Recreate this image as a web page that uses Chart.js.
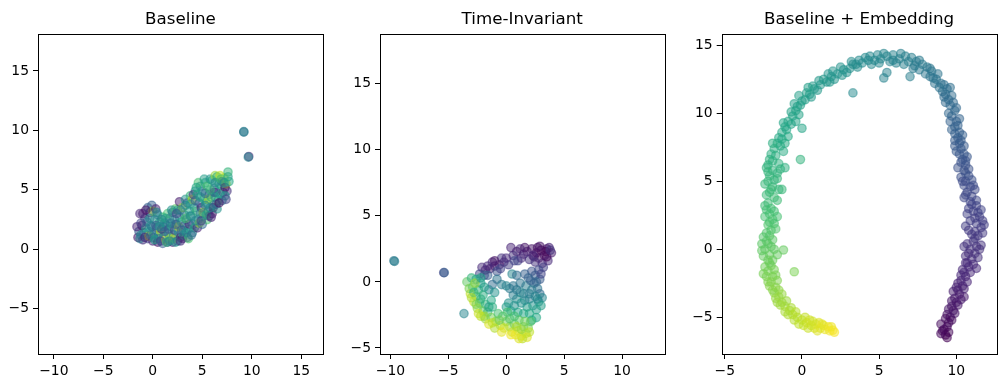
<!DOCTYPE html>
<html>
<head>
<meta charset="utf-8">
<title>Baseline / Time-Invariant / Baseline + Embedding</title>
<script src="https://cdn.jsdelivr.net/npm/chart.js@4.4.1/dist/chart.umd.min.js"></script>
<style>
    html, body { margin: 0; padding: 0; background: #fff; overflow: hidden; }
    body { width: 998px; height: 382px; position: relative; }
    canvas { position: absolute; top: 0; }
</style>
</head>
<body>
<canvas id="chart1" width="330" height="382" style="left:0px"></canvas>
<canvas id="chart2" width="340" height="382" style="left:330px"></canvas>
<canvas id="chart3" width="332" height="382" style="left:670px"></canvas>
<script>
// 패널 제목
var titles = ["Baseline", "Time-Invariant", "Baseline + Embedding"];

// [x, y, 색상값(0~1, viridis)] - 그림에서 읽은 값
var baselinePoints = [
    [-1.5, 1.0, 0.05], [-1.4, 1.5, 0.3], [-1.6, 1.9, 0.1], [-1.2, 1.2, 0.45],
    [-1.0, 0.8, 0.15], [-0.9, 1.4, 0.4], [-1.1, 2.0, 0.05], [-0.8, 2.6, 0.25], [-1.0, 3.0, 0.08], [-0.7, 1.8, 0.55], [-1.3, 3.0, 0.1],
    [-0.5, 0.9, 0.2], [-0.4, 1.5, 0.5], [-0.6, 2.3, 0.35], [-0.3, 3.1, 0.1], [-0.5, 3.5, 0.3], [-0.2, 2.0, 0.45], [-0.4, 1.1, 0.9], [-0.1, 3.7, 0.3],
    [0.0, 0.7, 0.12], [0.1, 1.3, 0.6], [-0.1, 1.9, 0.4], [0.2, 2.5, 0.5], [0.0, 3.2, 0.85], [0.3, 3.4, 0.08], [0.1, 1.0, 0.3],
    [0.5, 0.6, 0.05], [0.6, 1.2, 0.45], [0.4, 1.8, 0.25], [0.7, 2.3, 0.6], [0.5, 2.9, 0.4], [0.8, 1.5, 0.9], [0.6, 0.9, 0.35],
    [1.0, 0.5, 0.3], [1.1, 1.1, 0.5], [0.9, 1.7, 0.1], [1.2, 2.2, 0.45], [1.0, 2.7, 0.65], [1.3, 0.8, 0.95], [1.1, 1.9, 0.35],
    [1.5, 0.6, 0.2], [1.6, 1.3, 0.55], [1.4, 2.0, 0.45], [1.7, 2.6, 0.3], [1.5, 3.0, 0.7], [1.8, 1.0, 0.85], [1.6, 1.7, 0.25],
    [2.0, 0.6, 0.1], [2.1, 1.2, 0.4], [1.9, 1.9, 0.6], [2.2, 2.5, 0.5], [2.0, 3.1, 0.35], [2.3, 3.4, 0.75], [2.1, 0.9, 0.9], [2.2, 1.6, 0.2],
    [2.5, 0.7, 0.3], [2.6, 1.4, 0.5], [2.4, 2.1, 0.15], [2.7, 2.7, 0.45], [2.5, 3.3, 0.6], [2.7, 4.0, 0.08], [2.6, 1.9, 0.9], [2.8, 1.0, 0.1],
    [3.0, 0.9, 0.05], [3.1, 1.6, 0.45], [2.9, 2.3, 0.55], [3.2, 2.9, 0.35], [3.0, 3.5, 0.85], [3.3, 4.2, 0.5], [3.1, 1.2, 0.6], [3.2, 2.0, 0.25],
    [3.5, 1.0, 0.2], [3.6, 1.7, 0.55], [3.4, 2.5, 0.4], [3.7, 3.2, 0.6], [3.5, 3.9, 0.3], [3.8, 4.5, 0.65], [3.6, 0.9, 0.7], [3.7, 2.1, 0.1],
    [4.0, 1.4, 0.4], [4.1, 2.1, 0.3], [3.9, 2.8, 0.55], [4.2, 3.5, 0.45], [4.0, 4.2, 0.9], [4.3, 4.9, 0.5], [4.1, 4.6, 0.15], [4.2, 1.8, 0.6],
    [4.5, 1.8, 0.1], [4.6, 2.5, 0.5], [4.4, 3.2, 0.65], [4.7, 3.9, 0.35], [4.5, 4.6, 0.6], [4.8, 5.3, 0.4], [4.6, 5.6, 0.7], [4.7, 2.2, 0.85],
    [5.0, 2.1, 0.35], [5.1, 2.8, 0.55], [4.9, 3.5, 0.1], [5.2, 4.2, 0.65], [5.0, 4.9, 0.45], [5.3, 5.6, 0.6], [5.1, 3.1, 0.9], [5.2, 5.9, 0.55],
    [5.5, 2.5, 0.7], [5.6, 3.2, 0.4], [5.4, 3.9, 0.6], [5.7, 4.6, 0.3], [5.5, 5.3, 0.7], [5.8, 5.9, 0.5], [5.6, 4.2, 0.9], [5.7, 2.8, 0.2],
    [6.0, 3.0, 0.05], [6.1, 3.7, 0.55], [5.9, 4.4, 0.65], [6.2, 5.1, 0.4], [6.0, 5.8, 0.6], [6.3, 6.2, 0.85], [6.1, 3.5, 0.02], [6.2, 4.8, 0.15],
    [6.5, 3.4, 0.5], [6.6, 4.1, 0.7], [6.4, 4.8, 0.25], [6.7, 5.5, 0.6], [6.5, 6.1, 0.65], [6.8, 6.2, 0.9],
    [7.0, 4.1, 0.4], [7.1, 4.8, 0.1], [6.9, 5.4, 0.6], [7.2, 6.0, 0.9], [7.0, 5.7, 0.35],
    [7.5, 4.9, 0.15], [7.4, 5.5, 0.9], [7.6, 6.1, 0.55], [7.6, 6.5, 0.65], [7.3, 5.2, 0.05],
    [-1.3, 0.9, 0.4], [-1.2, 2.2, 0.2], [-0.8, 1.0, 0.1], [-0.7, 3.3, 0.05], [-0.3, 2.6, 0.45], [-0.2, 1.2, 0.35], [0.2, 0.8, 0.55],
    [0.3, 2.0, 0.3], [0.4, 3.1, 0.45], [0.8, 0.7, 0.2], [0.9, 2.5, 0.4], [0.7, 1.9, 0.5], [1.2, 1.5, 0.3], [1.3, 2.6, 0.55],
    [1.4, 0.6, 0.65], [1.8, 2.2, 0.4], [1.9, 3.3, 0.5], [1.7, 0.7, 0.45], [2.3, 2.1, 0.35], [2.4, 3.0, 0.2], [2.3, 0.6, 0.5],
    [2.8, 3.3, 0.4], [2.9, 1.6, 0.3], [2.8, 0.7, 0.15], [3.3, 3.7, 0.45], [3.4, 1.4, 0.5], [3.3, 2.6, 0.7], [3.8, 2.8, 0.45],
    [3.8, 3.8, 0.55], [3.9, 1.2, 0.35], [4.3, 2.4, 0.45], [4.3, 4.1, 0.3], [4.4, 5.2, 0.6], [4.8, 3.0, 0.4], [4.8, 4.4, 0.55],
    [4.9, 2.4, 0.2], [5.3, 3.7, 0.45], [5.3, 4.7, 0.35], [5.4, 2.9, 0.6], [5.8, 3.5, 0.45], [5.8, 5.0, 0.65], [5.9, 2.7, 0.1],
    [6.3, 4.4, 0.5], [6.3, 5.6, 0.45], [6.4, 3.8, 0.3], [6.8, 4.6, 0.55], [6.7, 3.9, 0.05], [6.9, 5.9, 0.7], [7.3, 4.5, 0.5],
    [7.2, 5.6, 0.45], [7.7, 5.7, 0.6], [7.4, 4.2, 0.2],
    [9.2, 9.9, 0.42], [9.2, 9.85, 0.4], [9.7, 7.8, 0.12], [9.65, 7.75, 0.45]
];

var invariantPoints = [
    // 위쪽 보라
    [3.5, 2.5, 0.02], [3.0, 2.4, 0.0], [2.6, 2.2, 0.02], [3.3, 2.0, 0.05], [2.8, 1.8, 0.03], [3.7, 2.6, 0.1], [2.2, 2.5, 0.05],
    [1.8, 2.3, 0.08], [2.4, 1.9, 0.06], [1.5, 2.1, 0.1], [1.2, 2.5, 0.12], [0.9, 2.3, 0.08], [0.6, 2.0, 0.15], [3.6, 1.6, 0.12],
    [3.1, 1.4, 0.1], [2.0, 1.7, 0.15], [3.9, 2.2, 0.08], [0.4, 2.6, 0.1], [1.0, 1.6, 0.2], [2.7, 2.6, 0.04], [3.2, 1.1, 0.18], [3.4, 2.3, 0.0],
    [-0.2, 1.5, 0.1], [-0.6, 1.3, 0.05], [-1.0, 1.2, 0.1], [-1.4, 1.0, 0.06], [-1.8, 0.9, 0.08], [-2.1, 1.1, 0.12],
    [-0.4, 1.8, 0.15], [-1.2, 1.5, 0.1], [0.2, 1.3, 0.18], [-2.3, 0.6, 0.2], [-1.6, 0.5, 0.3], [-0.8, 0.8, 0.25],
    [2.9, 2.7, 0.05], [2.3, 2.0, 0.1], [1.6, 2.6, 0.05], [3.5, 1.9, 0.02], [3.8, 2.4, 0.15], [2.5, 1.5, 0.15], [1.3, 1.8, 0.12],
    [0.7, 1.6, 0.2], [0.0, 1.8, 0.12], [-0.5, 1.0, 0.2], [-1.0, 1.6, 0.05], [-1.6, 1.2, 0.12], [-1.9, 0.5, 0.25],
    // 떨어진 점
    [-9.7, 1.6, 0.4], [-9.65, 1.55, 0.42], [-5.4, 0.7, 0.2], [-5.35, 0.7, 0.3], [-3.65, -2.4, 0.45], [0.5, 0.6, 0.45],
    // 오른쪽 청록
    [2.8, 0.9, 0.22], [2.5, 0.5, 0.3], [2.2, 0.8, 0.25], [2.9, 0.2, 0.28], [2.4, -0.1, 0.35], [1.9, 0.3, 0.32], [2.7, -0.5, 0.38],
    [2.2, -0.6, 0.4], [1.7, -0.3, 0.42], [2.9, -0.9, 0.35], [2.5, -1.1, 0.45], [2.0, -1.3, 0.42], [1.5, -0.9, 0.4], [2.8, -1.5, 0.5],
    [2.3, -1.8, 0.5], [1.8, -1.9, 0.55], [2.6, -2.1, 0.55], [2.0, -2.4, 0.6], [2.6, -2.7, 0.6], [3.1, -1.2, 0.45], [1.6, 0.6, 0.3], [1.2, -0.1, 0.38],
    [3.0, 0.6, 0.2], [2.6, 0.0, 0.32], [2.1, 0.1, 0.3], [2.0, -0.9, 0.42], [2.7, -1.3, 0.45], [3.0, -1.8, 0.55], [2.2, -2.9, 0.6],
    [1.6, -1.4, 0.45], [1.5, -2.4, 0.6],
    // 안쪽
    [1.2, -0.8, 0.45], [0.9, -1.3, 0.48], [0.6, -1.0, 0.42], [0.3, -0.5, 0.4], [0.0, -0.3, 0.45], [-0.4, -0.2, 0.42], [0.7, -1.8, 0.5],
    [0.4, -2.2, 0.55], [1.3, -1.6, 0.5], [1.0, -2.3, 0.58], [-0.8, 0.2, 0.38], [-1.2, -0.2, 0.35], [-1.5, -0.6, 0.45], [-1.0, -0.8, 0.5], [0.9, 0.5, 0.35],
    [0.2, -1.6, 0.5], [0.6, -0.3, 0.38], [0.0, -1.9, 0.55], [0.9, -0.6, 0.4],
    // 왼쪽 초록
    [-3.4, 0.0, 0.75], [-3.0, 0.3, 0.65], [-2.6, 0.2, 0.6], [-2.2, -0.1, 0.55], [-2.9, -0.4, 0.7], [-2.4, -0.6, 0.65], [-1.9, -0.4, 0.55],
    [-3.1, -0.9, 0.9], [-2.6, -1.1, 0.72], [-2.0, -1.0, 0.62], [-2.8, -1.5, 0.92], [-2.3, -1.6, 0.7], [-1.8, -1.7, 0.65], [-2.5, -2.0, 0.85],
    [-2.0, -2.2, 0.75], [-1.6, -2.3, 0.68], [-1.3, -1.4, 0.6], [-1.5, -1.9, 0.55], [-2.7, -0.1, 0.85],
    [-3.2, -0.5, 0.8], [-2.8, -0.8, 0.65], [-2.2, -1.3, 0.62], [-3.0, -1.2, 0.88], [-2.6, -1.7, 0.8], [-1.9, -2.6, 0.85],
    [-2.4, -2.4, 0.92], [-1.2, -1.9, 0.62], [-2.2, 0.3, 0.55],
    // 아래 노랑
    [-2.2, -2.6, 0.9], [-1.8, -2.8, 0.85], [-1.3, -2.7, 0.8], [-0.9, -3.0, 0.82], [-1.5, -3.2, 0.95], [-0.5, -3.3, 0.9], [-1.0, -3.5, 0.88],
    [0.0, -3.0, 0.8], [0.3, -3.4, 0.85], [0.7, -3.2, 0.78], [0.5, -3.8, 0.9], [1.0, -3.7, 0.92], [1.3, -4.1, 0.93], [1.7, -3.9, 0.9],
    [1.5, -3.4, 0.82], [1.9, -3.5, 0.8], [1.1, -2.9, 0.75], [-0.3, -2.6, 0.75], [0.1, -2.3, 0.7], [-0.7, -2.4, 0.7], [1.8, -4.2, 0.95],
    [1.4, -4.3, 0.9], [2.1, -3.0, 0.72], [0.8, -4.0, 0.97],
    [-1.2, -3.1, 0.9], [-0.6, -2.9, 0.78], [-0.2, -3.5, 0.92], [0.3, -2.8, 0.72], [0.7, -2.6, 0.7], [0.9, -3.4, 0.88],
    [1.3, -3.6, 0.85], [1.6, -3.0, 0.78], [2.0, -3.8, 0.9], [1.1, -4.3, 0.95], [0.4, -4.0, 0.98], [-0.4, -3.8, 0.96]
];

var embeddingPoints = [
    // 오른쪽 아래에서 위로
    [9.3, -6.3, 0.0], [9.1, -6.0, 0.01], [9.4, -5.7, 0.02], [9.2, -5.9, 0.02], [9.5, -5.4, 0.03], [9.6, -5.0, 0.04], [9.4, -4.8, 0.04],
    [9.8, -4.5, 0.05], [9.7, -4.2, 0.06], [10.0, -3.9, 0.06], [9.9, -3.6, 0.07], [10.2, -3.3, 0.08], [10.1, -3.0, 0.08], [10.4, -2.7, 0.09],
    [10.3, -2.3, 0.10], [10.6, -2.0, 0.10], [10.5, -1.7, 0.11], [10.8, -1.3, 0.12], [10.7, -1.0, 0.12], [11.0, -0.7, 0.13], [11.2, -0.3, 0.14],
    [10.9, 0.0, 0.14], [11.3, 0.2, 0.15], [11.1, 0.6, 0.15], [11.4, 1.0, 0.16], [11.2, 1.3, 0.17], [11.6, 1.6, 0.17], [11.3, 1.9, 0.18],
    [10.9, 2.1, 0.18], [11.5, 2.4, 0.19], [11.1, 2.8, 0.19], [11.3, 3.2, 0.20], [10.9, 3.5, 0.21], [11.0, 3.9, 0.21], [10.7, 4.2, 0.22],
    [10.9, 4.6, 0.22], [10.6, 5.0, 0.23], [10.8, 5.4, 0.24], [10.5, 5.8, 0.25], [10.6, 6.2, 0.25], [10.4, 6.6, 0.26], [10.5, 7.0, 0.27],
    [10.3, 7.4, 0.28], [10.2, 7.8, 0.28], [10.1, 8.2, 0.29], [10.2, 8.6, 0.30], [9.9, 9.0, 0.31], [10.0, 9.4, 0.31], [9.7, 9.8, 0.32],
    [9.9, 10.2, 0.33], [9.6, 10.6, 0.34], [9.5, 11.0, 0.35], [9.3, 11.4, 0.35], [9.4, 11.8, 0.36], [9.0, 12.2, 0.37], [8.7, 12.5, 0.38],
    [8.8, 12.9, 0.38], [8.4, 13.1, 0.39], [8.1, 13.4, 0.40], [7.8, 13.6, 0.41], [7.4, 13.8, 0.41], [7.1, 14.1, 0.42], [6.7, 14.2, 0.43],
    // 위쪽
    [6.3, 14.0, 0.43], [5.9, 14.3, 0.44], [5.5, 14.2, 0.45], [5.1, 14.0, 0.45], [4.7, 13.9, 0.46], [4.3, 13.9, 0.47], [3.9, 13.7, 0.47],
    [3.5, 13.6, 0.48], [3.1, 13.3, 0.49], [2.7, 13.2, 0.50], [2.3, 12.9, 0.51], [1.9, 12.7, 0.51], [1.6, 12.3, 0.52], [1.2, 12.1, 0.53],
    [0.8, 11.8, 0.54], [0.5, 11.4, 0.55], [0.2, 11.0, 0.55], [-0.1, 10.6, 0.56], [-0.4, 10.2, 0.57], [-0.6, 9.8, 0.58], [-0.9, 9.4, 0.58],
    // 왼쪽 아래로
    [-1.1, 9.0, 0.59], [-1.3, 8.6, 0.60], [-1.5, 8.2, 0.60], [-1.6, 7.8, 0.61], [-1.8, 7.4, 0.62], [-2.0, 7.0, 0.62], [-2.1, 6.6, 0.63],
    [-2.2, 6.2, 0.64], [-1.9, 5.8, 0.64], [-2.1, 5.4, 0.65], [-2.2, 5.0, 0.66], [-1.9, 4.6, 0.66], [-2.1, 4.2, 0.67], [-1.8, 3.8, 0.68],
    [-2.2, 3.4, 0.68], [-2.0, 3.0, 0.69], [-2.1, 2.6, 0.70], [-1.9, 2.2, 0.71], [-2.2, 1.8, 0.72], [-2.0, 1.4, 0.72], [-2.1, 1.0, 0.73],
    [-2.3, 0.6, 0.74], [-2.0, 0.2, 0.75], [-2.4, 0.0, 0.75], [-2.1, -0.4, 0.76], [-2.2, -0.8, 0.77], [-2.0, -1.2, 0.78], [-2.2, -1.6, 0.79],
    [-1.9, -2.0, 0.80], [-2.0, -2.4, 0.81], [-1.7, -2.8, 0.82], [-1.8, -3.2, 0.83], [-1.5, -3.5, 0.84], [-1.3, -3.9, 0.85], [-1.1, -4.2, 0.86],
    [-0.8, -4.5, 0.87], [-0.6, -4.8, 0.88], [-0.3, -5.0, 0.89], [0.0, -5.2, 0.90], [0.3, -5.4, 0.92], [0.6, -5.6, 0.93], [0.9, -5.5, 0.94],
    [1.2, -5.8, 0.96], [1.5, -5.9, 0.97], [1.8, -6.0, 0.98], [2.0, -5.95, 0.99],
    // 두 번째 줄
    [9.5, -6.1, 0.01], [9.0, -5.5, 0.03], [9.7, -5.2, 0.03], [9.5, -4.4, 0.05], [10.1, -4.1, 0.06], [9.8, -3.1, 0.08], [10.5, -3.5, 0.07],
    [10.1, -2.5, 0.09], [10.7, -2.4, 0.10], [10.4, -1.5, 0.11], [11.1, -1.1, 0.12], [10.6, -0.5, 0.13], [11.4, -0.6, 0.14], [10.7, 0.4, 0.15],
    [11.6, 0.3, 0.15], [11.0, 1.1, 0.16], [11.7, 1.2, 0.17], [10.6, 1.7, 0.18], [11.7, 2.1, 0.18], [11.4, 2.7, 0.19], [10.8, 3.0, 0.20],
    [11.3, 3.6, 0.21], [10.5, 3.8, 0.21], [11.2, 4.4, 0.22], [10.5, 4.7, 0.23], [11.0, 5.1, 0.24], [10.3, 5.3, 0.24], [10.8, 5.9, 0.25],
    [10.3, 6.4, 0.26], [10.7, 6.8, 0.27], [10.0, 7.2, 0.28], [10.5, 7.6, 0.28], [9.9, 8.0, 0.29], [10.4, 8.4, 0.30], [9.7, 8.8, 0.31],
    [10.2, 9.6, 0.32], [9.5, 10.0, 0.33], [10.0, 10.4, 0.33], [9.3, 10.8, 0.34], [9.7, 11.3, 0.35], [9.1, 11.6, 0.36], [9.2, 12.1, 0.36],
    [8.6, 12.2, 0.37], [8.3, 12.7, 0.38], [8.0, 12.9, 0.39], [7.6, 13.2, 0.40], [7.3, 13.5, 0.41], [6.9, 13.8, 0.42], [6.6, 13.6, 0.43],
    [6.1, 13.7, 0.43], [5.7, 13.8, 0.44], [5.3, 14.4, 0.45], [4.9, 14.3, 0.45], [4.5, 13.6, 0.46], [4.1, 14.1, 0.47], [3.7, 13.9, 0.47],
    [3.3, 13.6, 0.48], [2.9, 13.0, 0.49], [2.5, 13.4, 0.50], [2.1, 12.5, 0.51], [1.7, 12.9, 0.51], [1.4, 12.5, 0.52], [1.0, 11.7, 0.53],
    [0.7, 12.0, 0.54], [0.3, 11.5, 0.55], [0.0, 10.9, 0.55], [-0.3, 10.5, 0.56], [-0.2, 9.9, 0.57], [-0.7, 9.2, 0.58], [-1.0, 8.8, 0.59],
    [-0.9, 8.3, 0.60], [-1.4, 7.6, 0.61], [-1.2, 7.2, 0.61], [-1.7, 6.9, 0.62], [-1.5, 6.3, 0.63], [-2.3, 6.0, 0.64], [-1.6, 5.6, 0.64],
    [-1.8, 5.1, 0.65], [-2.4, 4.8, 0.66], [-1.5, 4.4, 0.66], [-2.3, 4.0, 0.67], [-2.4, 3.2, 0.68], [-1.8, 2.8, 0.69], [-2.4, 2.4, 0.70],
    [-1.8, 1.9, 0.71], [-2.3, 1.2, 0.72], [-1.9, 0.7, 0.74], [-2.6, 0.4, 0.74], [-1.8, 0.0, 0.75], [-2.5, -0.5, 0.76], [-1.9, -0.8, 0.77],
    [-2.4, -1.3, 0.78], [-1.8, -1.5, 0.79], [-2.3, -2.0, 0.80], [-1.6, -2.3, 0.81], [-2.1, -2.7, 0.82], [-1.5, -3.0, 0.83], [-1.7, -3.6, 0.84],
    [-1.0, -3.8, 0.85], [-1.4, -4.1, 0.86], [-0.7, -4.3, 0.87], [-0.9, -4.8, 0.88], [-0.5, -5.2, 0.89], [0.2, -5.0, 0.91], [0.1, -5.6, 0.92],
    [0.5, -5.2, 0.93], [0.8, -5.8, 0.94], [1.1, -5.4, 0.95], [1.4, -5.6, 0.96], [1.7, -5.7, 0.98],
    // 세 번째 줄
    [9.4, -6.5, 0.0], [9.0, -6.2, 0.02], [9.3, -5.1, 0.03], [9.9, -4.7, 0.05], [9.7, -3.8, 0.06], [10.3, -3.7, 0.07], [10.0, -2.8, 0.09],
    [10.5, -2.9, 0.09], [10.3, -1.9, 0.11], [10.9, -1.7, 0.11], [10.6, -1.0, 0.12], [11.3, -1.4, 0.12], [10.8, -0.3, 0.13], [11.5, 0.0, 0.14],
    [10.5, 0.2, 0.15], [11.2, 0.8, 0.16], [10.8, 1.4, 0.17], [11.8, 1.8, 0.18], [11.2, 2.3, 0.18], [10.7, 2.6, 0.19], [11.6, 2.9, 0.2],
    [11.0, 3.3, 0.2], [10.6, 4.0, 0.22], [11.1, 4.7, 0.23], [10.4, 5.0, 0.23], [10.6, 5.6, 0.25], [10.1, 6.0, 0.25], [10.6, 6.5, 0.26],
    [10.2, 7.0, 0.27], [9.9, 7.6, 0.28], [10.3, 8.0, 0.29], [9.9, 8.5, 0.30], [10.1, 9.1, 0.31], [9.6, 9.4, 0.31], [9.8, 10.8, 0.34],
    [9.2, 11.2, 0.35], [9.6, 11.9, 0.36], [8.9, 11.9, 0.37], [8.5, 12.6, 0.38], [8.3, 13.3, 0.39], [7.6, 13.9, 0.41], [7.2, 13.3, 0.41],
    [6.4, 14.4, 0.43], [5.9, 13.9, 0.44], [5.0, 13.7, 0.45], [4.4, 14.2, 0.46], [3.6, 13.4, 0.48], [3.2, 13.8, 0.48], [2.6, 12.8, 0.5],
    [2.0, 13.1, 0.51], [1.8, 12.3, 0.52], [1.1, 12.4, 0.53], [0.6, 11.2, 0.54], [0.4, 11.9, 0.55], [-0.2, 11.3, 0.55], [-0.5, 10.7, 0.56],
    [-0.7, 10.1, 0.57], [-0.4, 9.4, 0.58], [-1.2, 9.3, 0.59], [-1.3, 8.1, 0.60], [-1.1, 7.8, 0.61], [-1.9, 7.8, 0.62], [-1.9, 6.5, 0.63],
    [-1.4, 5.9, 0.64], [-2.2, 5.7, 0.65], [-1.6, 5.2, 0.65], [-2.0, 4.4, 0.67], [-1.6, 3.6, 0.68], [-2.3, 2.9, 0.69], [-1.6, 2.4, 0.70],
    [-2.1, 2.0, 0.71], [-1.7, 1.5, 0.72], [-2.5, 0.9, 0.73], [-2.2, 0.4, 0.74], [-1.6, -0.4, 0.76], [-2.6, -0.1, 0.75], [-2.1, -1.0, 0.77],
    [-2.5, -1.8, 0.79], [-1.7, -1.9, 0.80], [-2.2, -2.4, 0.81], [-1.9, -3.0, 0.82], [-1.3, -3.3, 0.84], [-1.6, -3.9, 0.85], [-1.1, -4.6, 0.87],
    [-0.4, -4.6, 0.89], [-0.2, -5.5, 0.90], [0.4, -5.8, 0.92], [0.7, -5.3, 0.93], [1.0, -6.0, 0.95], [1.3, -5.5, 0.96], [2.1, -6.1, 0.99],
    [1.9, -5.7, 0.98],
    // 떨어진 점
    [3.3, 11.5, 0.47], [-0.1, 6.6, 0.64], [-0.5, -1.65, 0.80], [-1.2, -0.05, 0.76], [0.0, 8.9, 0.58], [5.3, 12.6, 0.44],
    [7.0, 12.7, 0.42], [5.5, 13.0, 0.44], [-1.1, 6.0, 0.63], [-1.3, 4.4, 0.66]
];

// 축 범위와 눈금
var baselineX = [-11.6, 17.2], baselineY = [-8.8, 18.1];
var invariantX = [-10.9, 13.66], invariantY = [-5.46, 18.77];
var embeddingX = [-5.2, 12.6], embeddingY = [-7.7, 15.83];
var baselineXTicks = [-10, -5, 0, 5, 10, 15], baselineYTicks = [-5, 0, 5, 10, 15];
var invariantXTicks = [-10, -5, 0, 5, 10], invariantYTicks = [-5, 0, 5, 10, 15];
var embeddingXTicks = [-5, 0, 5, 10], embeddingYTicks = [-5, 0, 5, 10, 15];

// viridis 색상표
var viridisStops = ["#440154", "#482475", "#414487", "#355f8d", "#2a788e", "#21918c",
    "#22a884", "#44bf70", "#7ad151", "#bddf26", "#fde725"];

function viridis(v) {
    var p = Math.max(0, Math.min(1, v)) * (viridisStops.length - 1);
    var i = Math.min(Math.floor(p), viridisStops.length - 2);
    var f = p - i;
    var a = viridisStops[i], b = viridisStops[i + 1];
    var rgb = [1, 3, 5].map(function (k) {
        var c1 = parseInt(a.substr(k, 2), 16), c2 = parseInt(b.substr(k, 2), 16);
        return Math.round(c1 + (c2 - c1) * f);
    });
    return "rgba(" + rgb.join(",") + ",0.5)";
}

// 네 변 테두리
var framePlugin = {
    id: 'frame',
    afterDraw: function (chart) {
        var a = chart.chartArea, ctx = chart.ctx;
        var l = Math.round(a.left) + 0.5, t = Math.round(a.top) + 0.5;
        var r = Math.round(a.right) + 0.5, b = Math.round(a.bottom) + 0.5;
        ctx.save();
        ctx.strokeStyle = '#000';
        ctx.lineWidth = 1;
        ctx.strokeRect(l, t, r - l, b - t);
        ctx.restore();
    }
};

function minus(v) {
    return String(v).replace('-', '\u2212');
}

function makeChart(id, title, points, xr, yr, xTicks, yTicks, yWidth, padRight) {
    var tickFont = { family: "'DejaVu Sans', sans-serif", size: 13.9 };
    var colors = points.map(function (p) { return viridis(p[2]); });
    return new Chart(document.getElementById(id), {
        type: 'scatter',
        data: {
            datasets: [{
                data: points.map(function (p) { return { x: p[0], y: p[1] }; }),
                pointBackgroundColor: colors,
                pointBorderColor: colors,
                pointBorderWidth: 1.3,
                pointRadius: 4.2,
                pointHoverRadius: 4.2
            }]
        },
        options: {
            responsive: false,
            animation: false,
            events: [],
            layout: { padding: { left: 0, right: padRight, top: 0, bottom: 0 } },
            plugins: {
                legend: { display: false },
                tooltip: { enabled: false },
                title: {
                    display: true,
                    text: title,
                    fullSize: false,
                    color: '#000',
                    font: { family: "'DejaVu Sans', sans-serif", size: 16.7, weight: 'normal', lineHeight: 1.2 },
                    padding: { top: 10, bottom: 4 }
                }
            },
            scales: {
                x: {
                    type: 'linear',
                    min: xr[0],
                    max: xr[1],
                    afterBuildTicks: function (s) { s.ticks = xTicks.map(function (v) { return { value: v }; }); },
                    afterFit: function (s) { s.height = 28; },
                    border: { display: false },
                    grid: { drawOnChartArea: false, drawTicks: true, tickLength: 5, tickColor: '#000', tickWidth: 1 },
                    ticks: { autoSkip: false, maxRotation: 0, padding: 4, color: '#000', font: tickFont, callback: minus }
                },
                y: {
                    type: 'linear',
                    min: yr[0],
                    max: yr[1],
                    afterBuildTicks: function (s) { s.ticks = yTicks.map(function (v) { return { value: v }; }); },
                    afterFit: function (s) { s.width = yWidth; },
                    border: { display: false },
                    grid: { drawOnChartArea: false, drawTicks: true, tickLength: 5, tickColor: '#000', tickWidth: 1 },
                    ticks: { autoSkip: false, padding: 4, color: '#000', font: tickFont, callback: minus }
                }
            }
        },
        plugins: [framePlugin]
    });
}

window.onload = function () {
    var chart1 = makeChart('chart1', titles[0], baselinePoints, baselineX, baselineY, baselineXTicks, baselineYTicks, 38, 7);
    var chart2 = makeChart('chart2', titles[1], invariantPoints, invariantX, invariantY, invariantXTicks, invariantYTicks, 50, 5);
    var chart3 = makeChart('chart3', titles[2], embeddingPoints, embeddingX, embeddingY, embeddingXTicks, embeddingYTicks, 51.7, 0);
};
</script>
</body>
</html>
